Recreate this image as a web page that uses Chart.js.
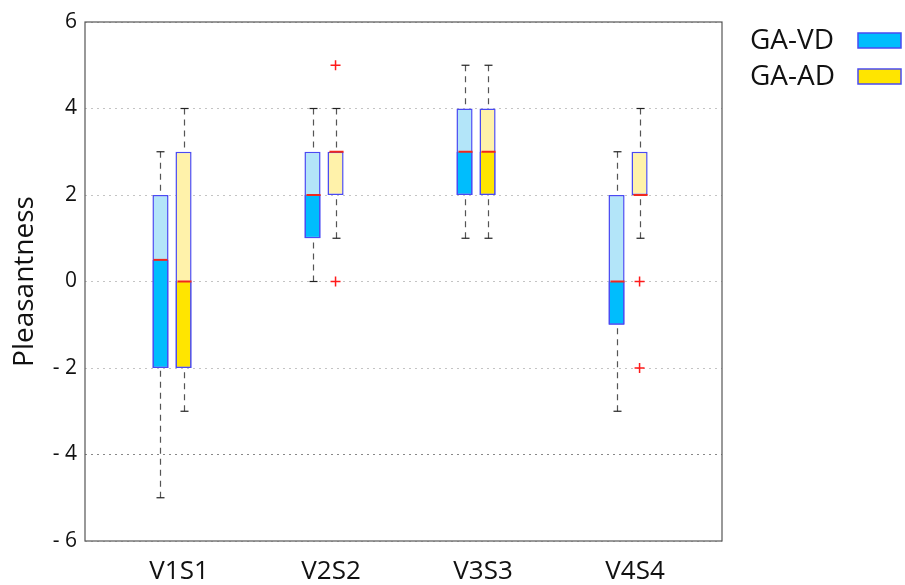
<!DOCTYPE html>
<html>
<head>
<meta charset="utf-8">
<script src="https://cdn.jsdelivr.net/npm/chart.js@4.4.0/dist/chart.umd.min.js"></script>
<style>
  html, body { margin: 0; padding: 0; background: #fff; }
  #wrap { width: 905px; height: 585px; }
</style>
</head>
<body>
<div id="wrap"><canvas id="boxChart"></canvas></div>
<script>
// categories and tick labels
const categories = ["V1S1", "V2S2", "V3S3", "V4S4"];
const yTicks = [-6, -4, -2, 0, 2, 4, 6];

// GA-VD box statistics
const vdMin = [-5, 0, 1, -3];
const vdQ1 = [-2, 1, 2, -1];
const vdMed = [0.5, 2, 3, 0];
const vdQ3 = [2, 3, 4, 2];
const vdMax = [3, 4, 5, 3];
const vdShadeTop = [0.5, 2, 3, 0]; // top of the dark part of the box, as drawn
const vdOutliers = [[], [], [], []];

// GA-AD box statistics
const adMin = [-3, 1, 1, 1];
const adQ1 = [-2, 2, 2, 2];
const adMed = [0, 3, 3, 2];
const adQ3 = [3, 3, 4, 3];
const adMax = [4, 4, 5, 4];
const adShadeTop = [0, 2, 3, 2];
const adOutliers = [[], [5, 0], [], [0, -2]];

const catPct = 0.303;
const boxBorder = "#4a4af2";

function boxData(lo, hi) {
  return categories.map((c, i) => ({ x: i + 1, y: [lo[i], hi[i]] }));
}
function shadeData(lo, top) {
  return categories.map((c, i) => ({ x: i + 1, y: top[i] > lo[i] ? [lo[i], top[i]] : null }));
}
function outlierData(list, shift) {
  const pts = [];
  list.forEach((vals, i) => vals.forEach(v => pts.push({ x: i + 1 + shift, y: v })));
  return pts;
}

function line(ctx, x1, y1, x2, y2) {
  ctx.beginPath();
  ctx.moveTo(x1, y1);
  ctx.lineTo(x2, y2);
  ctx.stroke();
}

// whiskers, medians, frame and legend
const boxExtras = {
  id: "boxExtras",
  afterDatasetsDraw(chart) {
    const ctx = chart.ctx;
    const ys = chart.scales.y;
    const a = chart.chartArea;
    const groups = [
      { meta: chart.getDatasetMeta(1), min: vdMin, q1: vdQ1, med: vdMed, q3: vdQ3, max: vdMax },
      { meta: chart.getDatasetMeta(3), min: adMin, q1: adQ1, med: adMed, q3: adQ3, max: adMax },
    ];
    ctx.save();
    groups.forEach(g => {
      g.meta.data.forEach((bar, i) => {
        const x = Math.round(bar.x) + 0.5;
        const w = bar.width;
        const yMax = ys.getPixelForValue(g.max[i]);
        const yMin = ys.getPixelForValue(g.min[i]);
        ctx.strokeStyle = "#555";
        ctx.lineWidth = 1.2;
        ctx.setLineDash([6, 5]);
        line(ctx, x, yMax, x, ys.getPixelForValue(g.q3[i]));
        line(ctx, x, yMin, x, ys.getPixelForValue(g.q1[i]));
        ctx.setLineDash([]);
        ctx.strokeStyle = "#222";
        line(ctx, x - 4, yMax, x + 4, yMax);
        line(ctx, x - 4, yMin, x + 4, yMin);
        const ym = ys.getPixelForValue(g.med[i]);
        ctx.strokeStyle = "#f0281e";
        ctx.lineWidth = 2;
        line(ctx, x - w / 2 + 1, ym, x + w / 2 - 1, ym);
      });
    });
    ctx.strokeStyle = "#555";
    ctx.lineWidth = 1.2;
    ctx.strokeRect(a.left, a.top, a.width, a.height);
    ctx.restore();
  },
  afterDraw(chart) {
    const ctx = chart.ctx;
    const items = [
      { text: "GA-VD", color: "#00bdfd", y: 41 },
      { text: "GA-AD", color: "#ffe500", y: 77 },
    ];
    ctx.save();
    ctx.font = "28px 'Open Sans'";
    ctx.textBaseline = "middle";
    items.forEach(it => {
      ctx.fillStyle = "#111";
      ctx.fillText(it.text, 750, it.y);
      ctx.fillStyle = it.color;
      ctx.fillRect(858, it.y - 8, 43, 15);
      ctx.strokeStyle = boxBorder;
      ctx.lineWidth = 1.5;
      ctx.strokeRect(858, it.y - 8, 43, 15);
    });
    ctx.restore();
  },
};

Chart.defaults.font.family = "'Open Sans'";
Chart.defaults.color = "#222";

// datasets drawn last-to-first, so the shade sits before its box
const config = {
  type: "bar",
  data: {
    datasets: [
      {
        label: "GA-VD shade",
        data: shadeData(vdQ1, vdShadeTop),
        stack: "vd",
        backgroundColor: "#00bdfd",
        borderColor: boxBorder,
        borderWidth: { top: 0, left: 1.5, right: 1.5, bottom: 1.5 },
        borderSkipped: false,
      },
      {
        label: "GA-VD",
        data: boxData(vdQ1, vdQ3),
        stack: "vd",
        backgroundColor: "#b3e5f9",
        borderColor: boxBorder,
        borderWidth: 1.5,
        borderSkipped: false,
      },
      {
        label: "GA-AD shade",
        data: shadeData(adQ1, adShadeTop),
        stack: "ad",
        backgroundColor: "#ffe500",
        borderColor: boxBorder,
        borderWidth: { top: 0, left: 1.5, right: 1.5, bottom: 1.5 },
        borderSkipped: false,
      },
      {
        label: "GA-AD",
        data: boxData(adQ1, adQ3),
        stack: "ad",
        backgroundColor: "#fff2aa",
        borderColor: boxBorder,
        borderWidth: 1.5,
        borderSkipped: false,
      },
      {
        type: "scatter",
        label: "GA-VD outliers",
        data: outlierData(vdOutliers, -catPct / 4),
        pointStyle: "cross",
        radius: 5,
        borderColor: "#ff1a1a",
        borderWidth: 1.5,
      },
      {
        type: "scatter",
        label: "GA-AD outliers",
        data: outlierData(adOutliers, catPct / 4),
        pointStyle: "cross",
        radius: 5,
        borderColor: "#ff1a1a",
        borderWidth: 1.5,
      },
    ],
  },
  options: {
    responsive: true,
    maintainAspectRatio: false,
    devicePixelRatio: 1,
    animation: false,
    events: [],
    categoryPercentage: catPct,
    barPercentage: 0.7,
    layout: { padding: { top: 22, right: 183, bottom: 0, left: 0 } },
    plugins: { legend: { display: false }, tooltip: { enabled: false } },
    scales: {
      x: {
        type: "linear",
        offset: false,
        min: 0.4276,
        max: 4.618,
        afterBuildTicks: s => { s.ticks = categories.map((c, i) => ({ value: i + 1 })); },
        afterFit: s => { s.height = 44; },
        grid: { display: false, drawTicks: false, offset: false },
        border: { display: false },
        ticks: {
          padding: 15,
          labelOffset: 7,
          font: { size: 26 },
          color: "#111",
          callback: v => categories[v - 1],
        },
      },
      y: {
        min: -6,
        max: 6,
        stacked: false,
        afterBuildTicks: s => { s.ticks = yTicks.map(v => ({ value: v })); },
        afterFit: s => { s.width = 85; },
        grid: {
          drawTicks: false,
          color: c => (c.tick && c.tick.value === -4 ? "#888" : "#c4c4c4"),
          lineWidth: 1,
        },
        border: { display: false, dash: [2, 4] },
        title: {
          display: true,
          text: "Pleasantness",
          font: { size: 28 },
          color: "#111",
          padding: { top: 8, bottom: 0 },
        },
        ticks: {
          padding: 8,
          font: { size: 21 },
          color: "#111",
          callback: v => (v < 0 ? "- " + -v : String(v)),
        },
      },
    },
  },
  plugins: [boxExtras],
};

//render the chart
const boxChart = new Chart(document.getElementById("boxChart"), config);
</script>
</body>
</html>
